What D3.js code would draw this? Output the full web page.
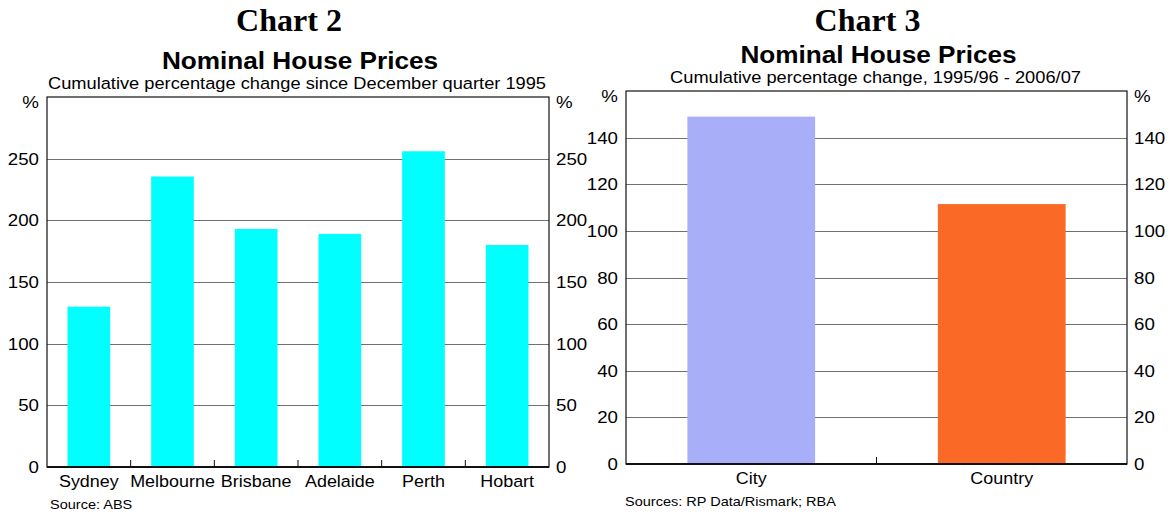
<!DOCTYPE html>
<html>
<head>
<meta charset="utf-8">
<script src="https://cdn.jsdelivr.net/npm/d3@7"></script>
<style>
  body { margin: 0; background: #fff; }
  svg text { font-family: Arial, "Liberation Sans", sans-serif; fill: #000; }
</style>
</head>
<body>
<svg id="chart" width="1170" height="514"></svg>
<script>
// Chart 2 data
var cities = ["Sydney", "Melbourne", "Brisbane", "Adelaide", "Perth", "Hobart"];
var cityChange = [130, 235.5, 193, 189, 256, 180];
var ticks2 = [0, 50, 100, 150, 200, 250];

// Chart 3 data
var regions = ["City", "Country"];
var regionChange = [149, 111.5];
var regionColours = ["#a8aef8", "#fa6a26"];
var ticks3 = [0, 20, 40, 60, 80, 100, 120, 140];

var svg = d3.select("#chart");
var WIDEN = 1.1;   // the original's sans text is a touch wider than Arial

// text helper: sans text, slightly widened around its anchor
function label(g, x, y, str, size, anchor, weight) {
    return g.append("text")
        .attr("transform", "translate(" + x + "," + y + ") scale(" + WIDEN + ",1)")
        .attr("text-anchor", anchor || "start")
        .style("font-size", size + "px")
        .style("font-weight", weight || "normal")
        .text(str);
}

function drawPanel(opt) {
    var g = svg.append("g");
    var x = d3.scaleBand()
        .domain(opt.cats)
        .range([opt.left, opt.right])
        .paddingInner(0.49)
        .paddingOuter(0.245);
    var y = d3.scaleLinear()
        .domain([0, opt.max])
        .range([opt.bottom, opt.top]);
    var mid = (opt.left + opt.right) / 2;

    // titles
    g.append("text")
        .attr("x", mid - 9).attr("y", 31)
        .attr("text-anchor", "middle")
        .style("font-family", "'Liberation Serif', 'Times New Roman', serif")
        .style("font-weight", "bold")
        .style("font-size", "32px")
        .text(opt.chartNo);
    label(g, mid + 2, opt.titleY, "Nominal House Prices", 23.8, "middle", "bold");
    label(g, mid - 1, opt.subY, opt.subtitle, 16.6, "middle");

    // gridlines
    g.selectAll(".grid")
        .data(opt.ticks.filter(function(d) { return d > 0; }))
        .enter().append("line")
        .attr("x1", opt.left).attr("x2", opt.right)
        .attr("y1", function(d) { return Math.round(y(d)) + 0.5; })
        .attr("y2", function(d) { return Math.round(y(d)) + 0.5; })
        .style("stroke", "#707070")
        .style("stroke-width", 1.2);

    // bars
    g.selectAll(".bar")
        .data(opt.values)
        .enter().append("rect")
        .attr("x", function(d, i) { return x(opt.cats[i]); })
        .attr("width", x.bandwidth())
        .attr("y", function(d) { return y(d); })
        .attr("height", function(d) { return y(0) - y(d); })
        .style("fill", function(d, i) { return opt.colour(i); });

    // frame
    g.append("rect")
        .attr("x", opt.left).attr("y", opt.top)
        .attr("width", opt.right - opt.left)
        .attr("height", opt.bottom - opt.top)
        .style("fill", "none")
        .style("stroke", "#111")
        .style("stroke-width", 1.2);
    g.append("line")
        .attr("x1", opt.left).attr("x2", opt.right)
        .attr("y1", opt.bottom).attr("y2", opt.bottom)
        .style("stroke", "#111")
        .style("stroke-width", 2);

    // small ticks between categories
    var edges = opt.cats.slice(1).map(function(c) { return x(c) - x.step() * x.paddingInner() / 2; });
    g.selectAll(".xtick")
        .data(edges)
        .enter().append("line")
        .attr("x1", function(d) { return d; }).attr("x2", function(d) { return d; })
        .attr("y1", opt.bottom).attr("y2", opt.bottom - 7)
        .style("stroke", "#111")
        .style("stroke-width", 1);

    // y labels both sides
    opt.ticks.forEach(function(t) {
        label(g, opt.left - 8, y(t) + 6, t, 17, "end");
        label(g, opt.right + 7, y(t) + 6, t, 17, "start");
    });
    label(g, opt.left - 8, opt.top + 11, "%", 17, "end");
    label(g, opt.right + 7, opt.top + 11, "%", 17, "start");

    // category labels
    opt.cats.forEach(function(c) {
        label(g, x(c) + x.bandwidth() / 2, opt.bottom + 20, c, 16.3, "middle");
    });

    // source
    label(g, opt.sourceX, opt.bottom + 42, opt.source, 13.2, "start");
}

drawPanel({
    cats: cities, values: cityChange, ticks: ticks2, max: 300,
    left: 47, right: 549, top: 97, bottom: 467,
    chartNo: "Chart 2", titleY: 69, subY: 89,
    subtitle: "Cumulative percentage change since December quarter 1995",
    colour: function() { return "#00ffff"; },
    source: "Source: ABS", sourceX: 50
});

drawPanel({
    cats: regions, values: regionChange, ticks: ticks3, max: 160,
    left: 626, right: 1127, top: 91, bottom: 464,
    chartNo: "Chart 3", titleY: 63, subY: 83,
    subtitle: "Cumulative percentage change, 1995/96 - 2006/07",
    colour: function(i) { return regionColours[i]; },
    source: "Sources: RP Data/Rismark; RBA", sourceX: 625
});
</script>
</body>
</html>
